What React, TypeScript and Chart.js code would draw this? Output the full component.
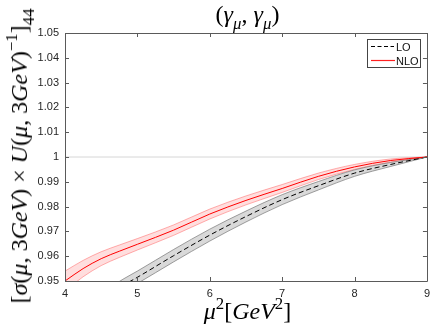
import React, { useEffect, useRef } from 'react';
import { Chart, registerables } from 'chart.js';
Chart.register(...registerables);

// ---- data ----
const X_NLO = [4, 4.25, 4.5, 4.75, 5, 5.5, 6, 6.5, 7, 7.5, 8, 8.5, 9];
const NLO = [0.95, 0.955, 0.959, 0.962, 0.9648, 0.9705, 0.977, 0.9825, 0.9873, 0.9922, 0.996, 0.9986, 1.0];
const NLO_UP = [0.954, 0.9583, 0.9618, 0.9645, 0.9671, 0.9726, 0.979, 0.9843, 0.9889, 0.9935, 0.997, 0.9992, 1.0];
const NLO_LO = [0.946, 0.9517, 0.9562, 0.9595, 0.9625, 0.9684, 0.975, 0.9807, 0.9857, 0.9909, 0.995, 0.998, 1.0];

const X_LO = [4.6, 4.8, 5, 5.5, 6, 6.5, 7, 7.5, 8, 8.5, 9];
const LO = [0.9445, 0.9482, 0.9515, 0.9602, 0.9685, 0.976, 0.9828, 0.9884, 0.9935, 0.997, 1.0];
const LO_UP = [0.947, 0.9507, 0.954, 0.9627, 0.9709, 0.9782, 0.9848, 0.9901, 0.9948, 0.9978, 1.0];
const LO_LO = [0.942, 0.9457, 0.949, 0.9577, 0.9661, 0.9738, 0.9808, 0.9867, 0.9922, 0.9962, 1.0];

const REF_X = [4, 9];
const REF_Y = [1, 1];

const X_MIN = 4;
const X_MAX = 9;
const Y_MIN = 0.95;
const Y_MAX = 1.05;
const LEGEND_LABELS = ['LO', 'NLO'];

const SERIF = '"Liberation Serif", serif';
const SANS = '"Liberation Sans", Arial, sans-serif';

const decorPlugin = {
  id: 'decor',
  afterDraw(chart: any) {
    const ctx: CanvasRenderingContext2D = chart.ctx;
    const a = chart.chartArea;
    const xs = chart.scales.x;
    const ys = chart.scales.y;
    ctx.save();
    ctx.strokeStyle = '#5a5a5a';
    ctx.lineWidth = 1;
    ctx.beginPath();
    ctx.rect(Math.round(a.left) + 0.5, Math.round(a.top) + 0.5, Math.round(a.right - a.left), Math.round(a.bottom - a.top));
    ctx.stroke();
    ctx.beginPath();
    for (const t of xs.ticks) {
      const px = Math.round(xs.getPixelForValue(t.value)) + 0.5;
      ctx.moveTo(px, a.bottom);
      ctx.lineTo(px, a.bottom - 4);
      ctx.moveTo(px, a.top);
      ctx.lineTo(px, a.top + 4);
    }
    for (const t of ys.ticks) {
      const py = Math.round(ys.getPixelForValue(t.value)) + 0.5;
      ctx.moveTo(a.left, py);
      ctx.lineTo(a.left + 4, py);
      ctx.moveTo(a.right, py);
      ctx.lineTo(a.right - 4, py);
    }
    ctx.stroke();

    // legend box and samples
    const lx = 367, ly = 39, lw = 53, lh = 28;
    ctx.fillStyle = '#ffffff';
    ctx.fillRect(lx, ly, lw, lh);
    ctx.strokeStyle = '#444';
    ctx.strokeRect(lx + 0.5, ly + 0.5, lw, lh);
    ctx.lineWidth = 1.2;
    ctx.strokeStyle = '#000';
    ctx.setLineDash([4, 2.5]);
    ctx.beginPath();
    ctx.moveTo(371, 46.5);
    ctx.lineTo(394, 46.5);
    ctx.stroke();
    ctx.setLineDash([]);
    ctx.strokeStyle = '#ff2020';
    ctx.beginPath();
    ctx.moveTo(371, 60.5);
    ctx.lineTo(395, 60.5);
    ctx.stroke();
    ctx.restore();
  },
};

function pts(xs: number[], ys: number[]) {
  return xs.map((x, i) => ({ x, y: ys[i] }));
}

const Sub = ({ children }: { children: any }) => (
  <span style={{ fontSize: '0.7em', position: 'relative', top: '0.4em' }}>{children}</span>
);
const Sup = ({ children }: { children: any }) => (
  <span style={{ fontSize: '0.7em', position: 'relative', top: '-0.6em' }}>{children}</span>
);
const I = ({ children }: { children: any }) => <span style={{ fontStyle: 'italic' }}>{children}</span>;

export default function App() {
  const ref = useRef<HTMLCanvasElement>(null);
  useEffect(() => {
    if (!ref.current) return;
    const common = { pointRadius: 0, cubicInterpolationMode: 'monotone' as const };
    const chart = new Chart(ref.current, {
      type: 'line',
      data: {
        datasets: [
          { ...common, data: pts(X_NLO, NLO_UP), borderColor: 'rgba(255,80,80,0.45)', borderWidth: 1, fill: false, order: 5 },
          { ...common, data: pts(X_NLO, NLO_LO), borderColor: 'rgba(255,80,80,0.45)', borderWidth: 1, fill: '-1', backgroundColor: 'rgba(255,60,60,0.17)', order: 5 },
          { ...common, data: pts(X_LO, LO_UP), borderColor: 'rgba(110,110,110,0.65)', borderWidth: 1, fill: false, order: 4 },
          { ...common, data: pts(X_LO, LO_LO), borderColor: 'rgba(110,110,110,0.65)', borderWidth: 1, fill: '-1', backgroundColor: 'rgba(150,150,150,0.36)', order: 4 },
          { pointRadius: 0, data: pts(REF_X, REF_Y), borderColor: '#d6d6d6', borderWidth: 1, fill: false, order: 10 },
          { ...common, label: LEGEND_LABELS[0], data: pts(X_LO, LO), borderColor: '#000', borderWidth: 1, borderDash: [5, 3], fill: false, order: 1 },
          { ...common, label: LEGEND_LABELS[1], data: pts(X_NLO, NLO), borderColor: '#ff0000', borderWidth: 1, fill: false, order: 0 },
        ],
      },
      options: {
        animation: false,
        responsive: false,
        devicePixelRatio: 1,
        layout: { padding: { top: 33, right: 6, left: 0, bottom: 0 } },
        plugins: { legend: { display: false }, tooltip: { enabled: false }, title: { display: false } },
        scales: {
          x: {
            type: 'linear',
            min: X_MIN,
            max: X_MAX,
            grid: { display: false, drawTicks: false },
            border: { display: false },
            ticks: { stepSize: 1, padding: 6, color: '#262626', font: { family: SANS, size: 11 }, maxRotation: 0 },
            afterFit: (s: any) => { s.height = 46; },
          },
          y: {
            type: 'linear',
            min: Y_MIN,
            max: Y_MAX,
            grid: { display: false, drawTicks: false },
            border: { display: false },
            ticks: {
              stepSize: 0.01,
              padding: 6,
              color: '#262626',
              font: { family: SANS, size: 11 },
              callback: (v: any) => String(Number(Number(v).toFixed(2))),
            },
            afterFit: (s: any) => { s.width = 65; },
          },
        },
      },
      plugins: [decorPlugin],
    });
    let alive = true;
    const redraw = () => { if (alive) chart.update('none'); };
    const timers = [50, 150, 300, 600].map((ms) => setTimeout(redraw, ms));
    return () => { alive = false; timers.forEach(clearTimeout); chart.destroy(); };
  }, []);
  const txt: any = { position: 'absolute', whiteSpace: 'nowrap', lineHeight: 1, color: '#000', fontFamily: SERIF };
  return (
    <div style={{ position: 'absolute', left: 0, top: 0, width: 436, height: 327, background: '#fff', overflow: 'hidden' }}>
      <canvas ref={ref} width={436} height={327} style={{ position: 'absolute', left: 0, top: 0 }} />
      <div style={{ ...txt, left: 65, width: 365, top: 2, textAlign: 'center', fontSize: 24 }}>
        (<I>γ</I><Sub><I>μ</I></Sub>,&nbsp;<I>γ</I><Sub><I>μ</I></Sub>)
      </div>
      <div style={{ ...txt, left: 65, width: 365, top: 299, textAlign: 'center', fontSize: 24 }}>
        <I>μ</I><Sup>2</Sup>[<I>GeV</I><Sup>2</Sup>]
      </div>
      <div style={{ ...txt, left: 19, top: 156, fontSize: 24, transform: 'translate(-50%, -50%) rotate(-90deg)' }}>
        [<I>σ</I>(<I>μ</I>, 3<I>GeV</I>) × <I>U</I>(<I>μ</I>, 3<I>GeV</I>)<Sup>−1</Sup>]<Sub>44</Sub>
      </div>
      <div style={{ position: 'absolute', left: 396, top: 41.5, fontFamily: SANS, fontSize: 11, lineHeight: '11px', color: '#111' }}>{LEGEND_LABELS[0]}</div>
      <div style={{ position: 'absolute', left: 396, top: 55.5, fontFamily: SANS, fontSize: 11, lineHeight: '11px', color: '#111' }}>{LEGEND_LABELS[1]}</div>
    </div>
  );
}
